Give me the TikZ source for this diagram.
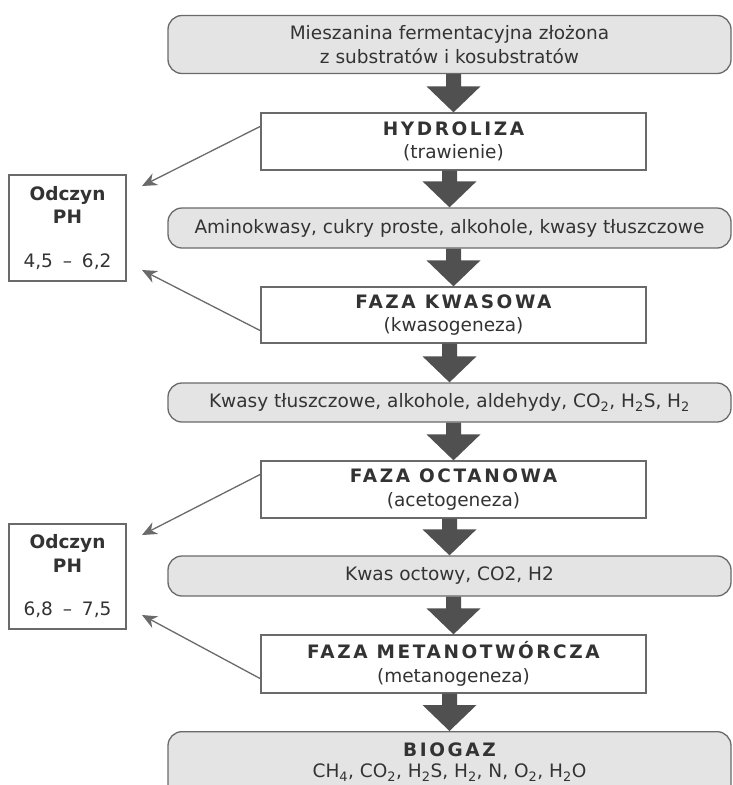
\documentclass[tikz,border=0pt]{standalone}
\usepackage{fontspec}
\setmainfont{DejaVu Sans}
\usetikzlibrary{arrows.meta,calc}
\definecolor{bdr}{HTML}{6A6A6A}
\definecolor{pillfill}{HTML}{E4E4E4}
\definecolor{bigarrow}{HTML}{505050}
\definecolor{txt}{HTML}{333333}
\newcommand\headtxt[1]{{\bfseries\addfontfeature{LetterSpace=14}#1}}
\newcommand\bigarrow[2]{%
  \fill[bigarrow] ($(#1.south -| #2.north)+(-7.5,0)$) -- ($(#2.north)+(-7.5,-26)$) -- ($(#2.north)+(-27,-26)$) -- (#2.north) -- ($(#2.north)+(27,-26)$) -- ($(#2.north)+(7.5,-26)$) -- ($(#1.south -| #2.north)+(7.5,0)$) -- cycle;}
\tikzset{
  pill/.style={draw=bdr, line width=1.3pt, fill=pillfill, rounded corners=14pt, align=center, text=txt, inner sep=0pt},
  phase/.style={draw=bdr, line width=1.3pt, fill=white, align=center, text=txt, inner sep=0pt},
  phbox/.style={draw=bdr, line width=1.3pt, fill=white, align=center, text=txt, inner sep=0pt},
  thinarrow/.style={draw=bdr, line width=1.3pt, -{Stealth[length=15pt,width=13pt]}},
}
\begin{document}
\begin{tikzpicture}[x=1pt,y=-1pt,font=\fontsize{18.5}{23.5}\selectfont]
\useasboundingbox (0,0) rectangle (732,785);
\clip (0,0) rectangle (732,785);
\node[pill, minimum width=563pt, minimum height=58pt] (mix) at (449.5,44.5) {Mieszanina fermentacyjna złożona\\z substratów i kosubstratów};
\node[phase, minimum width=385pt, minimum height=57pt] (hyd) at (453.5,141.5) {\headtxt{HYDROLIZA}\\(trawienie)};
\node[pill, minimum width=563pt, minimum height=40pt] (amino) at (449.5,228) {Aminokwasy, cukry proste, alkohole, kwasy tłuszczowe};
\node[phase, minimum width=385pt, minimum height=56pt] (kwas) at (453.5,315) {\headtxt{FAZA KWASOWA}\\(kwasogeneza)};
\node[pill, minimum width=563pt, minimum height=39pt] (kwasy) at (449.5,402.5) {Kwasy tłuszczowe, alkohole, aldehydy, CO\textsubscript{2}, H\textsubscript{2}S, H\textsubscript{2}};
\node[phase, minimum width=385pt, minimum height=57pt] (oct) at (453.5,489.5) {\headtxt{FAZA OCTANOWA}\\(acetogeneza)};
\node[pill, minimum width=563pt, minimum height=40pt] (octowy) at (449.5,576) {Kwas octowy, CO2, H2};
\node[phase, minimum width=385pt, minimum height=58pt] (met) at (453.5,664) {\headtxt{FAZA METANOTWÓRCZA}\\(metanogeneza)};
\node[pill, minimum width=563pt, anchor=north, inner ysep=11pt] (bio) at (449.5,731) {\headtxt{BIOGAZ}\\[-2pt]CH\textsubscript{4}, CO\textsubscript{2}, H\textsubscript{2}S, H\textsubscript{2}, N, O\textsubscript{2}, H\textsubscript{2}O\\[6pt]};
\node[phbox, minimum width=117pt, minimum height=106pt] (ph1) at (67.5,228) {\textbf{Odczyn}\\\textbf{PH}\\[20pt]4,5\hspace{4pt} – \hspace{4pt}6,2};
\node[phbox, minimum width=117pt, minimum height=105pt] (ph2) at (67.5,576.5) {\textbf{Odczyn}\\\textbf{PH}\\[20pt]6,8\hspace{4pt} – \hspace{4pt}7,5};
\bigarrow{mix}{hyd}
\bigarrow{hyd}{amino}
\bigarrow{amino}{kwas}
\bigarrow{kwas}{kwasy}
\bigarrow{kwasy}{oct}
\bigarrow{oct}{octowy}
\bigarrow{octowy}{met}
\bigarrow{met}{bio}
\coordinate (t1) at (142,186);
\coordinate (t2) at (142,270);
\coordinate (t3) at (142,535);
\coordinate (t4) at (142,615);
\draw[thinarrow] ($(hyd.north west)+(0,14)$) -- (t1);
\draw[thinarrow] ($(kwas.south west)+(0,-13)$) -- (t2);
\draw[thinarrow] ($(oct.north west)+(0,14)$) -- (t3);
\draw[thinarrow] ($(met.south west)+(0,-15)$) -- (t4);
\end{tikzpicture}
\end{document}
